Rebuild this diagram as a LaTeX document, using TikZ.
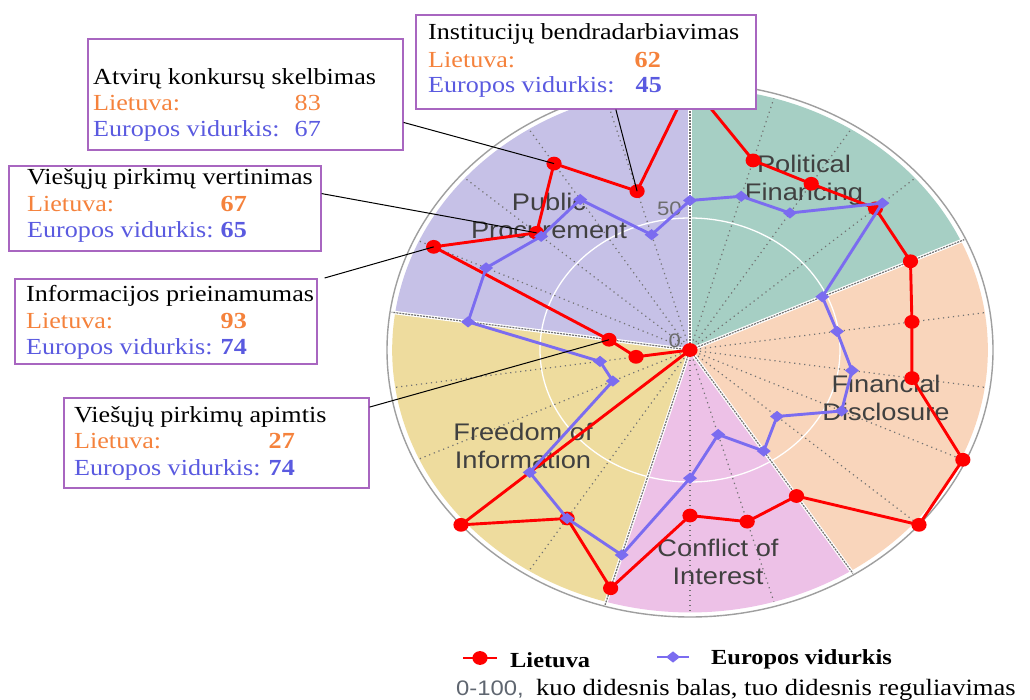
\documentclass[tikz,border=0pt]{standalone}
\usepackage{fontspec}
\setmainfont{Liberation Serif}
\setsansfont{Liberation Sans}
\usepackage{graphicx}
\usetikzlibrary{calc}

\definecolor{pfcol}{HTML}{A6CFC4}
\definecolor{fdcol}{HTML}{F9D5BB}
\definecolor{cicol}{HTML}{EDC1E7}
\definecolor{ficol}{HTML}{EEDC9E}
\definecolor{ppcol}{HTML}{C6C1E7}
\definecolor{ltred}{HTML}{FF0000}
\definecolor{eublue}{HTML}{7B6CF0}
\definecolor{ltorange}{HTML}{F5823C}
\definecolor{eutext}{HTML}{5A5AE0}
\definecolor{boxline}{HTML}{A866C0}
\definecolor{labelgray}{HTML}{404040}
\definecolor{gridgray}{HTML}{727272}
\definecolor{notegray}{HTML}{5F6670}

% horizontally widened text
\newcommand{\wide}[1]{\scalebox{1.135}[1]{#1}}

\tikzset{
  spoke/.style={gridgray, line width=1.2pt, dash pattern=on 1.2pt off 3.8pt},
  sectorsep/.style={gray!90!black, line width=1.2pt, dash pattern=on 2pt off 1pt},
  sectorgap/.style={white, line width=3.5pt},
  ltline/.style={ltred, line width=2.9pt, line join=round},
  euline/.style={eublue, line width=2.9pt, line join=round},
  catlabel/.style={font=\sffamily\fontsize{24}{28}\selectfont, text=labelgray, align=center, inner sep=0pt},
  axislabel/.style={font=\sffamily\fontsize{19.5}{22}\selectfont, text=gray!85!black, inner sep=0pt, anchor=base east},
  infobox/.style={draw=boxline, line width=1.6pt, fill=white, inner sep=0pt, anchor=north west},
  boxtxt/.style={font=\fontsize{23}{26}\selectfont, inner sep=0pt},
  ttl/.style={boxtxt, text=black, anchor=base west},
  ltlab/.style={boxtxt, text=ltorange, anchor=base west},
  eulab/.style={boxtxt, text=eutext, anchor=base west},
  ltnum/.style={boxtxt, text=ltorange, anchor=base east},
  eunum/.style={boxtxt, text=eutext, anchor=base east},
  conn/.style={black, line width=1pt},
  legtxt/.style={font=\bfseries\fontsize{21.5}{24}\selectfont, text=black, inner sep=0pt, anchor=base west},
}

\begin{document}
\begin{tikzpicture}[x=1pt, y=-1pt]
\useasboundingbox (0,0) rectangle (1030,700);
\fill[white] (0,0) rectangle (1030,700);

% ---------- polar chart ----------
\begin{scope}[shift={(690,350)}, x=3.03pt, y=2.67pt]
  % sectors
  \foreach \a/\b/\c in {90/24.545/pfcol, 24.545/-57.273/fdcol, -57.273/-106.364/cicol,
                        -106.364/-188.182/ficol, -188.182/-270/ppcol}
    \fill[\c] (0,0) -- (\a:98.3) arc[start angle=\a, end angle=\b, x radius=297.8pt, y radius=262.5pt] -- cycle;
  % ring at 50
  \draw[white, line width=1.3pt] (0,0) ellipse[x radius=150pt, y radius=132pt];
  % spokes
  \foreach \k in {0,...,21}
    \draw[spoke] (0,0) -- ({90-\k*360/22}:98.3);
  % sector separators
  \foreach \k in {0,4,9,12,17} {
    \draw[sectorgap] (0,0) -- ({90-\k*360/22}:99.5);
    \draw[sectorsep] (0,0) -- ({90-\k*360/22}:99.5);
  }
  % outer rim
  \draw[gray!75, line width=1.4pt] (0,0) ellipse[x radius=303pt, y radius=267pt];

  % data points
  \foreach \v [count=\i from 0] in {100,74,74,81,80,74,74,99,100,65,67,62,93,75,100,0,18,27,93,67,83,62}
    \coordinate (r\i) at ({90-\i*360/22}:\v);
  \foreach \v [count=\i from 0] in {56,60,61,84,48,49,54,55,38,45,33,48,80,75,70,28,30,74,74,65,67,45}
    \coordinate (b\i) at ({90-\i*360/22}:\v);
\end{scope}

% axis values
\node[axislabel] (ax0) at (681,348) {\wide{0}};
\node[axislabel] (ax50) at (682,216) {\wide{50}};

% category names
\node[catlabel] (catPF) at (804,180) {\wide{Political}\\\wide{Financing}};
\node[catlabel] (catPP) at (549,216) {\wide{Public}\\\wide{Procurement}};
\node[catlabel] (catFD) at (886,398) {\wide{Financial}\\\wide{Disclosure}};
\node[catlabel] (catFI) at (523,446) {\wide{Freedom of}\\\wide{Information}};
\node[catlabel] (catCI) at (718,562) {\wide{Conflict of}\\\wide{Interest}};

% Lietuva series
\draw[ltline] (r0) \foreach \i in {1,...,21}{ -- (r\i)} -- cycle;
\foreach \i in {0,...,21}
  \fill[ltred] (r\i) ellipse[x radius=7.6pt, y radius=6.9pt];
% European average series
\draw[euline] (b0) \foreach \i in {1,...,21}{ -- (b\i)} -- cycle;
\foreach \i in {0,...,21}
  \fill[eublue] (b\i) ++(7pt,0pt) -- ++(-7pt,5.6pt) -- ++(-7pt,-5.6pt) -- ++(7pt,-5.6pt) -- cycle;

% ---------- call-out boxes ----------
\node[infobox, minimum width=315pt, minimum height=111pt] (boxA) at (87,38) {};
\node[ttl]  (aT) at (93,85)  {\wide{Atvirų konkursų skelbimas}};
\node[ltlab] (aL) at (93,111) {\wide{Lietuva:}};
\node[ltnum] (aLv) at (321,111) {\wide{83}};
\node[eulab] (aE) at (93,137) {\wide{Europos vidurkis:}};
\node[eunum] (aEv) at (321,137) {\wide{67}};

\node[infobox, minimum width=340pt, minimum height=94pt] (boxB) at (415,14) {};
\node[ttl]  (bT) at (428,40) {\wide{Institucijų bendradarbiavimas}};
\node[ltlab] (bL) at (428,68) {\wide{Lietuva:}};
\node[ltnum] (bLv) at (661,68) {\wide{\bfseries 62}};
\node[eulab] (bE) at (428,93) {\wide{Europos vidurkis:}};
\node[eunum] (bEv) at (662,93) {\wide{\bfseries 45}};

\node[infobox, minimum width=312pt, minimum height=85pt] (boxC) at (8,165) {};
\node[ttl]  (cT) at (27,185) {\wide{Viešųjų pirkimų vertinimas}};
\node[ltlab] (cL) at (27,212) {\wide{Lietuva:}};
\node[ltnum] (cLv) at (247,212) {\wide{\bfseries 67}};
\node[eulab] (cE) at (27,238) {\wide{Europos vidurkis:}};
\node[eunum] (cEv) at (247,238) {\wide{\bfseries 65}};

\node[infobox, minimum width=302pt, minimum height=85pt] (boxD) at (14,278) {};
\node[ttl]  (dT) at (26,302) {\wide{Informacijos prieinamumas}};
\node[ltlab] (dL) at (26,328) {\wide{Lietuva:}};
\node[ltnum] (dLv) at (247,328) {\wide{\bfseries 93}};
\node[eulab] (dE) at (26,354) {\wide{Europos vidurkis:}};
\node[eunum] (dEv) at (247,354) {\wide{\bfseries 74}};

\node[infobox, minimum width=305pt, minimum height=90pt] (boxE) at (63,397) {};
\node[ttl]  (eT) at (74,422) {\wide{Viešųjų pirkimų apimtis}};
\node[ltlab] (eL) at (74,448) {\wide{Lietuva:}};
\node[ltnum] (eLv) at (295,448) {\wide{\bfseries 27}};
\node[eulab] (eE) at (74,475) {\wide{Europos vidurkis:}};
\node[eunum] (eEv) at (295,475) {\wide{\bfseries 74}};

% leader lines
\draw[conn] ($(boxA.north east)!0.75!(boxA.south east)$) -- (r20);
\draw[conn] ($(boxB.south west)!0.588!(boxB.south east)$) -- (r21);
\draw[conn] ($(boxC.north east)!0.33!(boxC.south east)$) -- (r19);
\draw[conn] ($(boxD.north east)+(7,0)$) -- (r18);
\draw[conn] ($(boxE.north east)!0.11!(boxE.south east)$) -- (r17);

% ---------- legend ----------
\coordinate (lgLa) at (463,658);
\coordinate (lgLb) at (497,658);
\coordinate (lgLm) at (480,658);
\draw[ltline] (lgLa) -- (lgLb);
\fill[ltred] (lgLm) ellipse[x radius=7.6pt, y radius=6.9pt];
\node[legtxt] (lgLt) at (510,667) {\wide{Lietuva}};

\coordinate (lgEa) at (657,657);
\coordinate (lgEb) at (689,657);
\coordinate (lgEm) at (673,657);
\draw[euline] (lgEa) -- (lgEb);
\fill[eublue] (lgEm) ++(7pt,0pt) -- ++(-7pt,5.6pt) -- ++(-7pt,-5.6pt) -- ++(7pt,-5.6pt) -- cycle;
\node[legtxt] (lgEt) at (711,664) {\wide{Europos vidurkis}};

\node[font=\sffamily\fontsize{21}{24}\selectfont, text=notegray, inner sep=0pt, anchor=base west] (noteA) at (456,695) {\wide{0-100,}};
\node[font=\fontsize{23.4}{26}\selectfont, text=black, inner sep=0pt, anchor=base west] (noteB) at (536,695) {\wide{kuo didesnis balas, tuo didesnis reguliavimas}};
\end{tikzpicture}
\end{document}
